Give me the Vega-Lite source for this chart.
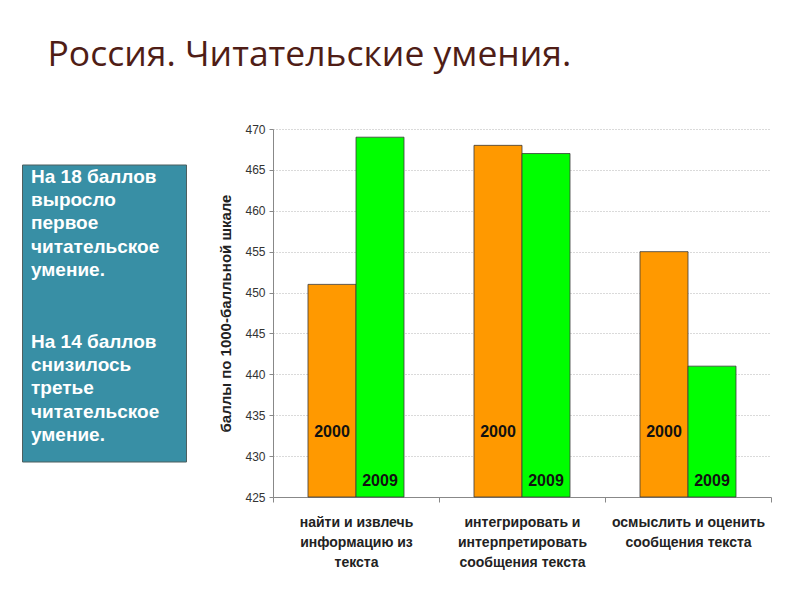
{
  "$schema": "https://vega.github.io/schema/vega-lite/v6.json",
  "background": "white",
  "padding": {"left": 21, "top": 37, "right": 5, "bottom": 5},
  "title": {
    "text": "Россия. Читательские умения.",
    "anchor": "start",
    "dx": 26,
    "font": "Open Sans",
    "fontSize": 35.5,
    "fontWeight": "normal",
    "color": "#4f1d16",
    "offset": 50
  },
  "bounds": "flush",
  "center": true,
  "spacing": 87,
  "hconcat": [
    {
      "width": 164,
      "height": 297,
      "view": {"fill": "#388fa5", "stroke": "#4d5f5f", "strokeWidth": 1},
      "data": {"values": [
        {"para": 1, "text": "На 18 баллов\nвыросло\nпервое\nчитательское\nумение."},
        {"para": 2, "text": "На 14 баллов\nснизилось\nтретье\nчитательское\nумение."}
      ]},
      "layer": [
        {
          "transform": [{"filter": "datum.para == 1"}],
          "mark": {"type": "text", "lineBreak": "\n", "lineHeight": 23.2, "align": "left", "baseline": "middle", "dx": -73, "dy": -136, "font": "Liberation Sans", "fontWeight": "bold", "fontSize": 19, "color": "white"},
          "encoding": {"text": {"field": "text", "type": "nominal"}}
        },
        {
          "transform": [{"filter": "datum.para == 2"}],
          "mark": {"type": "text", "lineBreak": "\n", "lineHeight": 23.2, "align": "left", "baseline": "middle", "dx": -73, "dy": 29, "font": "Liberation Sans", "fontWeight": "bold", "fontSize": 19, "color": "white"},
          "encoding": {"text": {"field": "text", "type": "nominal"}}
        }
      ]
    },
    {
      "width": 498,
      "height": 368,
      "view": {"stroke": null},
      "data": {"values": [
        {"category": "найти и извлечь\nинформацию из\nтекста", "year": 2000, "score": 451},
        {"category": "найти и извлечь\nинформацию из\nтекста", "year": 2009, "score": 469},
        {"category": "интегрировать и\nинтерпретировать\nсообщения текста", "year": 2000, "score": 468},
        {"category": "интегрировать и\nинтерпретировать\nсообщения текста", "year": 2009, "score": 467},
        {"category": "осмыслить и оценить\nсообщения текста", "year": 2000, "score": 455},
        {"category": "осмыслить и оценить\nсообщения текста", "year": 2009, "score": 441}
      ]},
      "encoding": {
        "x": {
          "field": "category", "type": "nominal", "sort": null,
          "scale": {"paddingInner": 0, "paddingOuter": 0},
          "axis": {
            "title": null, "labelAngle": 0, "labelExpr": "split(datum.label, '\\n')",
            "labelFont": "Liberation Sans", "labelFontWeight": "bold", "labelFontSize": 14,
            "labelColor": "#222", "labelLineHeight": 20, "labelBaseline": "top", "labelPadding": 13,
            "tickBand": "extent", "tickSize": 5, "tickColor": "#888", "domainColor": "#888", "grid": false
          }
        },
        "xOffset": {"field": "year", "type": "nominal", "scale": {"paddingInner": 0, "paddingOuter": 0.729}}
      },
      "layer": [
        {
          "mark": {"type": "bar", "stroke": "#3a3a3a", "strokeWidth": 0.8},
          "encoding": {
            "y": {
              "field": "score", "type": "quantitative",
              "scale": {"domain": [425, 470], "zero": false, "nice": false},
              "axis": {
                "title": "баллы по 1000-балльной шкале",
                "titleFont": "Liberation Sans", "titleFontWeight": "bold", "titleFontSize": 15, "titleColor": "#222",
                "titlePadding": 11,
                "values": [425, 430, 435, 440, 445, 450, 455, 460, 465, 470],
                "labelFont": "Liberation Sans", "labelFontSize": 12, "labelColor": "#333", "labelPadding": 4,
                "tickSize": 4, "tickColor": "#888", "domainColor": "#888",
                "grid": true, "gridColor": "#b5b5b5", "gridDash": [1, 2], "gridWidth": 1
              }
            },
            "y2": {"datum": 425},
            "color": {"field": "year", "type": "nominal", "scale": {"domain": [2000, 2009], "range": ["#FF9900", "#00FF00"]}, "legend": null}
          }
        },
        {
          "transform": [{"filter": "datum.year == 2000"}],
          "mark": {"type": "text", "font": "Liberation Sans", "fontWeight": "bold", "fontSize": 16, "color": "#111", "baseline": "middle"},
          "encoding": {
            "y": {"datum": 433, "type": "quantitative"},
            "text": {"field": "year", "type": "nominal"}
          }
        },
        {
          "transform": [{"filter": "datum.year == 2009"}],
          "mark": {"type": "text", "font": "Liberation Sans", "fontWeight": "bold", "fontSize": 16, "color": "#111", "baseline": "middle"},
          "encoding": {
            "y": {"datum": 427, "type": "quantitative"},
            "text": {"field": "year", "type": "nominal"}
          }
        }
      ]
    }
  ],
  "config": {"view": {"stroke": null}}
}
